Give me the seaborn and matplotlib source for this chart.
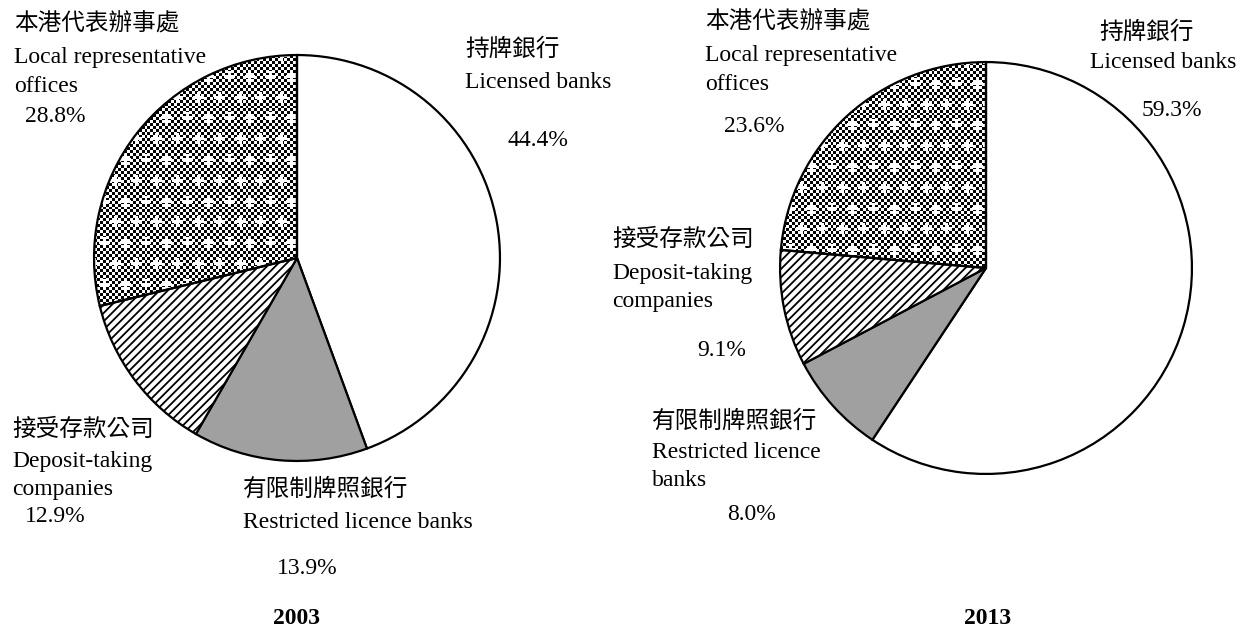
import numpy as np
import matplotlib
matplotlib.use("Agg")
import matplotlib.pyplot as plt
import seaborn as sns

sns.set_theme(style="white")
plt.rcParams['font.family'] = ['Liberation Serif', 'Noto Sans CJK TC']
plt.rcParams['hatch.linewidth'] = 1.3

# data (clockwise from 12 o'clock)
categories = ["Licensed banks", "Restricted licence banks",
              "Deposit-taking companies", "Local representative offices"]
share_2003 = [44.4, 13.9, 12.9, 28.8]
share_2013 = [59.3, 8.0, 9.1, 23.6]
years = ["2003", "2013"]

W, H = 1240, 633
fig = plt.figure(figsize=(W / 100, H / 100), dpi=100)
fig.patch.set_facecolor("white")


def px_axes(cx, cy, r):
    return fig.add_axes([(cx - r) / W, (H - cy - r) / H, 2 * r / W, 2 * r / H])


def checker_texture(n):
    # checkerboard with white crosses, used as a fill texture
    yy, xx = np.mgrid[0:n, 0:n]
    img = ((xx // 3 + yy // 3) % 2).astype(float)
    cell = 21
    for row, y0 in enumerate(range(0, n, cell)):
        off = 0 if row % 2 == 0 else cell // 2
        for x0 in range(off, n, cell):
            img[max(y0 - 5, 0):y0 + 6, max(x0 - 1, 0):x0 + 2] = 1
            img[max(y0 - 1, 0):y0 + 2, max(x0 - 5, 0):x0 + 6] = 1
    return img


def draw_pie(ax, values, r_px):
    colors = ["white", "#a0a0a0", "white", "white"]
    wedges, _ = ax.pie(values, colors=colors, startangle=90, counterclock=False,
                       wedgeprops=dict(edgecolor="black", linewidth=1.6))
    wedges[2].set_hatch("////")
    n = int(2 * r_px)
    img = checker_texture(n)
    im = ax.imshow(img, cmap="gray", vmin=0, vmax=1, interpolation="nearest",
                   extent=(-1, 1, -1, 1), zorder=0.5)
    im.set_clip_path(wedges[3])
    wedges[3].set_facecolor("none")
    wedges[3].set_zorder(2)
    ax.set_xlim(-1.01, 1.01)
    ax.set_ylim(-1.01, 1.01)
    ax.set_aspect("equal")
    ax.axis("off")


ax1 = px_axes(297, 258, 205)
draw_pie(ax1, share_2003, 205)
ax2 = px_axes(986, 268, 208)
draw_pie(ax2, share_2013, 208)


def t(x, y, s, **kw):
    fig.text(x / W, 1 - y / H, s, fontsize=17, va="center", ha=kw.pop("ha", "left"),
             color="black", **kw)


def zh(x, y, s):
    t(x, y, s, fontweight="light")


# 2003 labels
zh(14, 24, "本港代表辦事處")
t(14, 58, "Local representative")
t(14, 86, "offices")
t(25, 117, f"{share_2003[3]}%")
zh(465, 50, "持牌銀行")
t(465, 82, "Licensed banks")
t(508, 140, f"{share_2003[0]}%")
zh(12, 430, "接受存款公司")
t(12, 462, "Deposit-taking")
t(12, 490, "companies")
t(25, 516, f"{share_2003[2]}%")
zh(243, 490, "有限制牌照銀行")
t(243, 523, "Restricted licence banks")
t(277, 568, f"{share_2003[1]}%")
t(297, 618, years[0], ha="center", fontweight="bold")

# 2013 labels
zh(705, 22, "本港代表辦事處")
t(705, 56, "Local representative")
t(705, 84, "offices")
t(724, 127, f"{share_2013[3]}%")
zh(1099, 33, "持牌銀行")
t(1090, 63, "Licensed banks")
t(1142, 110, f"{share_2013[0]}%")
zh(612, 240, "接受存款公司")
t(612, 273, "Deposit-taking")
t(612, 301, "companies")
t(697, 350, f"{share_2013[2]}%")
zh(652, 422, "有限制牌照銀行")
t(652, 453, "Restricted licence")
t(652, 481, "banks")
t(727, 514, f"{share_2013[1]}%")
t(988, 618, years[1], ha="center", fontweight="bold")

fig.savefig("out.png", dpi=100)
